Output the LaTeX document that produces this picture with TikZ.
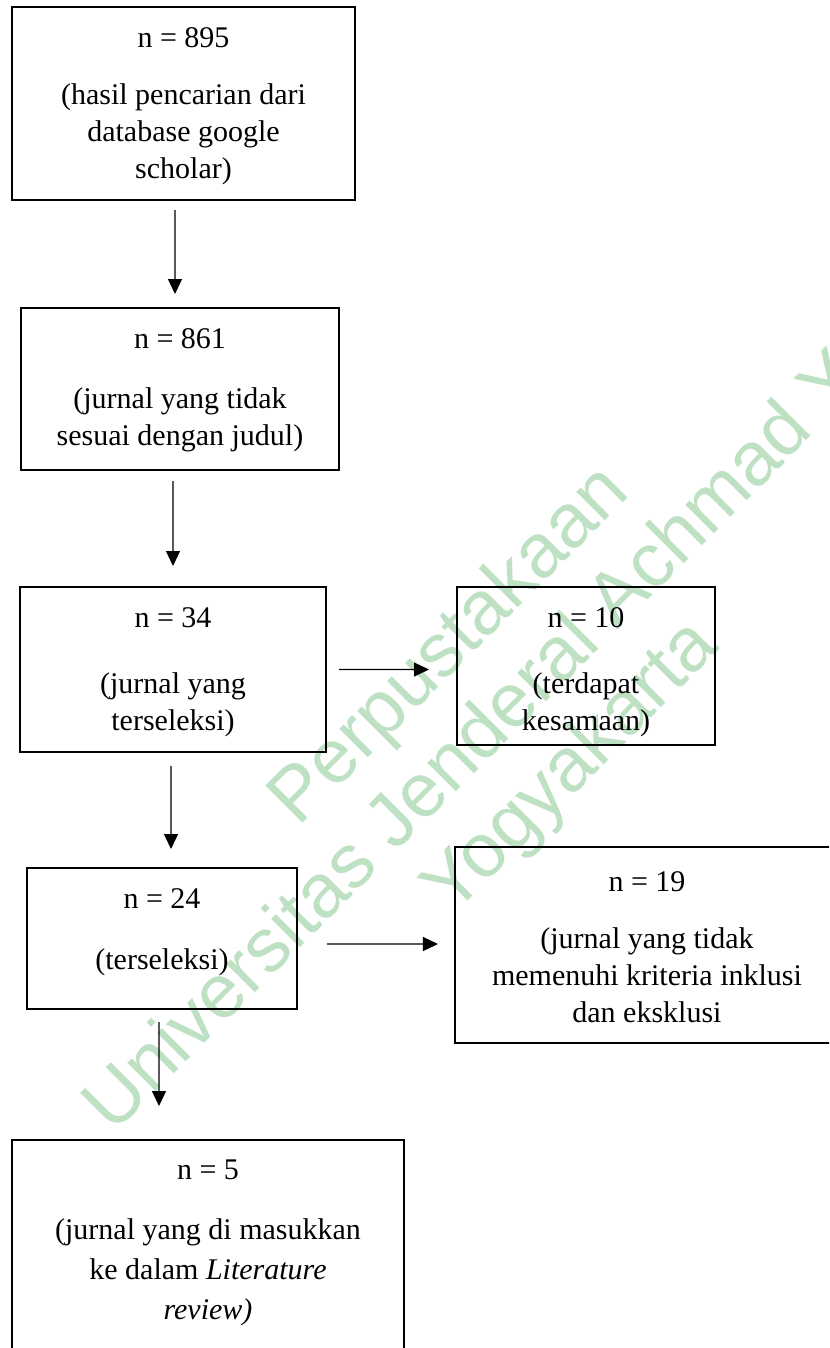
\documentclass[tikz,border=0pt]{standalone}
\usepackage{fontspec}
\setmainfont{Liberation Serif}
\newfontfamily\wmfont{Liberation Sans}
\usetikzlibrary{positioning,arrows.meta}
\definecolor{wmgreen}{RGB}{190,225,195}

\begin{document}
\begin{tikzpicture}[
      x=0.4pt, y=-0.4pt,
      box/.style={
        rectangle, draw,
        line width=0.8pt,
        inner sep=0pt
      },
      txt/.style={
        align=center, inner sep=0pt,
        font=\fontsize{12pt}{14.8pt}\selectfont
      },
      arr/.style={-{Triangle[length=6pt,width=5.6pt]}, line width=0.5pt}
    ]
    \useasboundingbox (0,0) rectangle (829,1348);
    \clip (0,0) rectangle (829,1348);

    % watermark behind the flow chart
    \node[rotate=45, text=wmgreen, align=center,
          font=\wmfont\fontsize{30.5pt}{34.4pt}\selectfont] (wm) at (512,708)
        {Perpustakaan\\Universitas Jenderal Achmad Y\phantom{ani}\\Yogyakarta};

    % boxes
    \node[box, minimum width=137.2pt, minimum height=77.2pt] (b1) at (183.5,103.5) {};
    \node[box, minimum width=127.2pt, minimum height=64.8pt] (b2) at (180,389) {};
    \node[box, minimum width=122.4pt, minimum height=66pt]   (b3) at (173,669.5) {};
    \node[box, minimum width=103.2pt, minimum height=63.2pt] (b4) at (586,666) {};
    \node[box, minimum width=108pt,   minimum height=56.4pt] (b5) at (162,938.5) {};
    \node[box, minimum width=153.6pt, minimum height=78.4pt] (b6) at (647,945) {};
    \node[box, minimum width=156.8pt, minimum height=104pt]  (b7) at (208,1270) {};

    % texts
    \node[txt, below=8.4pt of b1.north] (t1) {n = 895\\[8pt] (hasil pencarian dari\\ database google\\ scholar)};
    \node[txt, below=8.4pt of b2.north] (t2) {n = 861\\[9.2pt] (jurnal yang tidak\\ sesuai dengan judul)};
    \node[txt, below=8.4pt of b3.north] (t3) {n = 34\\[11.6pt] (jurnal yang\\ terseleksi)};
    \node[txt, below=8.4pt of b4.north] (t4) {n = 10\\[11.6pt] (terdapat\\ kesamaan)};
    \node[txt, below=8.4pt of b5.north] (t5) {n = 24\\[9.6pt] (terseleksi)};
    \node[txt, below=10pt of b6.north]  (t6) {n = 19\\[8.2pt] (jurnal yang tidak\\ memenuhi kriteria inklusi\\ dan eksklusi};
    \node[txt, font=\fontsize{12pt}{16pt}\selectfont, below=8pt of b7.north] (t7)
        {n = 5\\[8pt] (jurnal yang di masukkan\\ ke dalam \textit{Literature}\\ \textit{review)}};

    % arrows
    \draw[arr] ([xshift=-3.4pt,yshift=-3.6pt]b1.south) -- ([xshift=-2pt,yshift=5.2pt]b2.north);
    \draw[arr] ([xshift=-2.8pt,yshift=-4pt]b2.south) -- ([yshift=8pt]b3.north);
    \draw[arr] ([xshift=4.8pt]b3.east) -- ([xshift=-10.8pt,yshift=-1.4pt]b4.west);
    \draw[arr] ([xshift=-0.8pt,yshift=-5.2pt]b3.south) -- ([xshift=3.6pt,yshift=7.2pt]b5.north);
    \draw[arr] ([xshift=11.6pt,yshift=-2.2pt]b5.east) -- ([xshift=-6.4pt,yshift=0.4pt]b6.west);
    \draw[arr] ([xshift=-1.2pt,yshift=-4.8pt]b5.south) -- ([xshift=-19.6pt,yshift=13.2pt]b7.north);
\end{tikzpicture}
\end{document}
